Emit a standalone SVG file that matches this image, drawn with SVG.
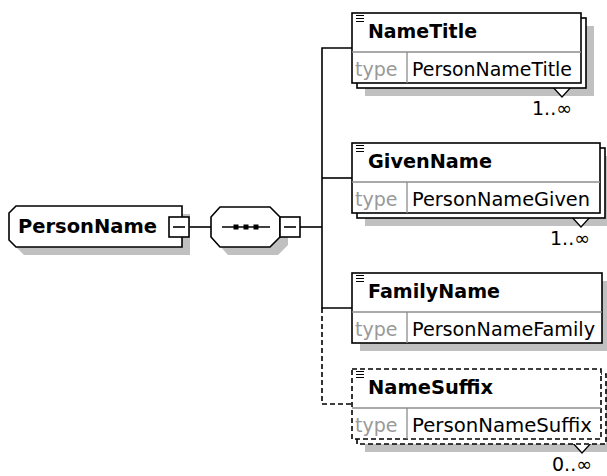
<svg xmlns="http://www.w3.org/2000/svg" width="607" height="476" viewBox="0 0 607 476">
<style>
.box{fill:#fff;stroke:#000;stroke-width:1.6}
.dash{stroke-dasharray:5 3}
.sh{fill:#c0c0c0;stroke:none}
.sep{stroke:#8c8c8c;stroke-width:1.3;fill:none}
.ico{stroke:#000;stroke-width:1.2}
.t{font-family:"DejaVu Sans","Liberation Sans",sans-serif;font-size:19px;fill:#000}
.b{font-weight:bold}
.ty{fill:#999}
.conn{fill:none;stroke:#000;stroke-width:1.6}
.mark{fill:#fff;stroke:#000;stroke-width:1.3}
</style>
<rect width="607" height="476" fill="#fff"/>
<g id="connectors">
  <line class="conn" x1="189" y1="227" x2="211" y2="227"/>
  <line class="conn" x1="300" y1="227" x2="322" y2="227"/>
  <polyline class="conn" points="352,48 322,48 322,308 352,308"/>
  <line class="conn" x1="322" y1="178" x2="352" y2="178"/>
  <polyline class="conn dash" points="322,308 322,404 352,404"/>
</g>
<g id="PersonName">
  <path class="sh" d="M24,214 H190 V255 H24 L17,248 V221 Z"/>
  <path class="box" d="M16,206 H182 V247 H16 L9,240 V213 Z"/>
  <text class="t b" x="18" y="233" font-size="20" textLength="139" lengthAdjust="spacingAndGlyphs">PersonName</text>
  <rect class="box" x="169" y="217" width="20" height="20"/>
  <line class="conn" x1="173" y1="227" x2="185" y2="227"/>
</g>
<g id="sequence">
  <path class="sh" d="M228,215 H278 L288,225 V245 L278,255 H228 L219,245 V225 Z"/>
  <path class="box" d="M220,207 H270 L280,217 V237 L270,247 H220 L211,237 V217 Z"/>
  <line class="conn" x1="222" y1="227" x2="270" y2="227"/>
  <rect x="233.5" y="224.5" width="5" height="5" fill="#000"/>
  <rect x="243.5" y="224.5" width="5" height="5" fill="#000"/>
  <rect x="253.5" y="224.5" width="5" height="5" fill="#000"/>
  <rect class="box" x="280" y="217" width="20" height="20"/>
  <line class="conn" x1="284" y1="227" x2="296" y2="227"/>
</g>
<g id="NameTitle">
  <rect class="sh" x="365" y="26" width="229" height="70"/>
  <polygon class="mark" points="551,85 562,97 573,85"/>
  <rect class="box" x="357" y="18" width="229" height="70"/>
  <rect class="box" x="352" y="13" width="229" height="70"/>
  <line class="sep" x1="352" y1="52" x2="581" y2="52"/>
  <line class="sep" x1="407" y1="52" x2="407" y2="83"/>
  <path class="ico" d="M356,15.5 H364 M356,18.5 H364 M356,21.5 H364"/>
  <text class="t b" x="368" y="38" textLength="109" lengthAdjust="spacingAndGlyphs">NameTitle</text>
  <text class="t ty" x="355" y="76">type</text>
  <text class="t" x="412" y="76" textLength="160" lengthAdjust="spacingAndGlyphs">PersonNameTitle</text>
  <text class="t" x="532" y="115" textLength="40" lengthAdjust="spacingAndGlyphs">1..∞</text>
</g>
<g id="GivenName">
  <rect class="sh" x="365" y="156" width="248" height="70"/>
  <polygon class="mark" points="570,215 581,227 592,215"/>
  <rect class="box" x="357" y="148" width="248" height="70"/>
  <rect class="box" x="352" y="143" width="248" height="70"/>
  <line class="sep" x1="352" y1="182" x2="600" y2="182"/>
  <line class="sep" x1="407" y1="182" x2="407" y2="213"/>
  <path class="ico" d="M356,145.5 H364 M356,148.5 H364 M356,151.5 H364"/>
  <text class="t b" x="368" y="168" textLength="124" lengthAdjust="spacingAndGlyphs">GivenName</text>
  <text class="t ty" x="355" y="206">type</text>
  <text class="t" x="412" y="206" textLength="178" lengthAdjust="spacingAndGlyphs">PersonNameGiven</text>
  <text class="t" x="550" y="245" textLength="40" lengthAdjust="spacingAndGlyphs">1..∞</text>
</g>
<g id="FamilyName">
  <rect class="sh" x="360" y="281" width="250" height="70"/>
  <rect class="box" x="352" y="273" width="250" height="70"/>
  <line class="sep" x1="352" y1="312" x2="602" y2="312"/>
  <line class="sep" x1="407" y1="312" x2="407" y2="343"/>
  <path class="ico" d="M356,275.5 H364 M356,278.5 H364 M356,281.5 H364"/>
  <text class="t b" x="368" y="298" textLength="132" lengthAdjust="spacingAndGlyphs">FamilyName</text>
  <text class="t ty" x="355" y="336">type</text>
  <text class="t" x="412" y="336" textLength="183" lengthAdjust="spacingAndGlyphs">PersonNameFamily</text>
</g>
<g id="NameSuffix">
  <rect class="sh" x="365" y="382" width="249" height="70"/>
  <polygon class="mark" points="571,441 582,453 593,441"/>
  <rect class="box dash" x="357" y="374" width="249" height="70"/>
  <rect class="box dash" x="352" y="369" width="249" height="70"/>
  <line class="sep" x1="352" y1="408" x2="601" y2="408"/>
  <line class="sep" x1="407" y1="408" x2="407" y2="439"/>
  <path class="ico" d="M356,371.5 H364 M356,374.5 H364 M356,377.5 H364"/>
  <text class="t b" x="368" y="394" textLength="125" lengthAdjust="spacingAndGlyphs">NameSuffix</text>
  <text class="t ty" x="355" y="432">type</text>
  <text class="t" x="412" y="432" textLength="180" lengthAdjust="spacingAndGlyphs">PersonNameSuffix</text>
  <text class="t" x="552" y="471" textLength="40" lengthAdjust="spacingAndGlyphs">0..∞</text>
</g>
</svg>
